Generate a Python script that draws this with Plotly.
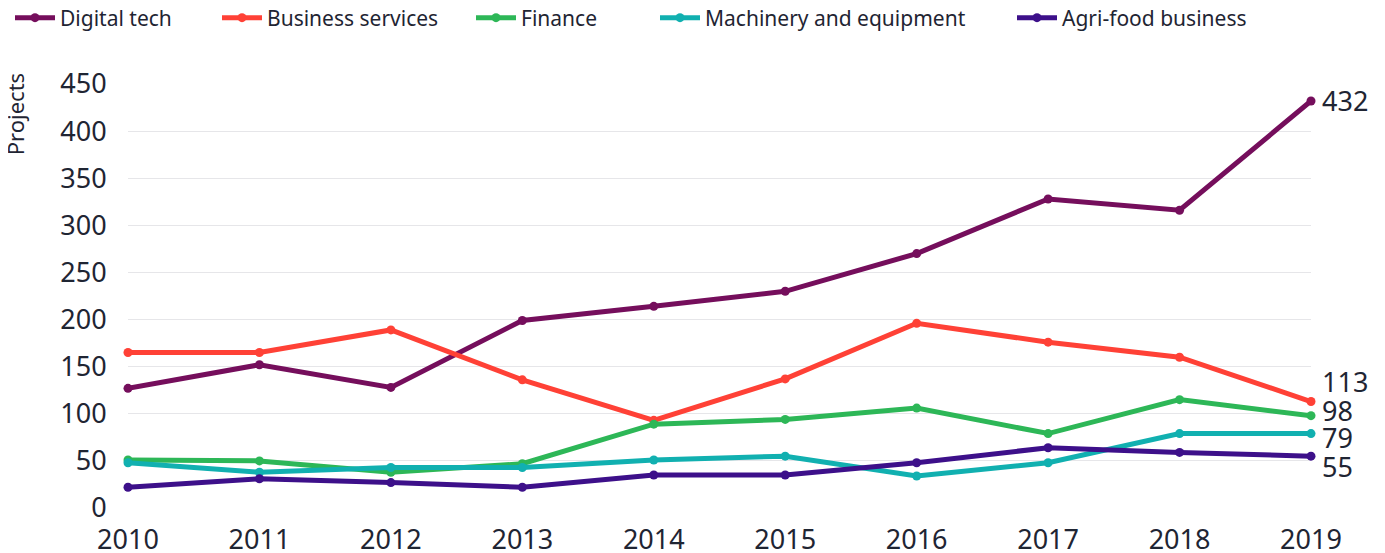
import plotly.graph_objects as go

years = [2010, 2011, 2012, 2013, 2014, 2015, 2016, 2017, 2018, 2019]
digital_tech = [127, 152, 128, 199, 214, 230, 270, 328, 316, 432]
business_services = [165, 165, 189, 136, 93, 137, 196, 176, 160, 113]
finance = [51, 50, 38, 47, 89, 94, 106, 79, 115, 98]
machinery = [48, 38, 43, 43, 51, 55, 34, 48, 79, 79]
agri_food = [22, 31, 27, 22, 35, 35, 48, 64, 59, 55]

series_names = ["Digital tech", "Business services", "Finance", "Machinery and equipment", "Agri-food business"]
series_values = [digital_tech, business_services, finance, machinery, agri_food]
colors = ["#750E5C", "#FF4136", "#2DB757", "#11B0B0", "#3D108A"]
label_shift = [0, 20, 5, -4, -10]
legend_px = [2, 209, 463, 647, 1004]

FONT = "Noto Sans"
TXT = "#1F2533"
# the page body adds an 8px offset; size the figure to fill the window
W, H = 1377, 545
ML, MR, MT, MB = 120, 74, 76, 45
PW, PH = W - ML - MR, H - MT - MB

fig = go.Figure()
for i, (name, vals, col) in enumerate(zip(series_names, series_values, colors)):
    lg = "legend" if i == 0 else f"legend{i+1}"
    fig.add_trace(go.Scatter(
        x=years, y=vals, name=name, mode="lines+markers",
        line=dict(color=col, width=5),
        marker=dict(color=col, size=9),
        cliponaxis=False, legend=lg,
    ))

for vals, shift in zip(series_values, label_shift):
    fig.add_annotation(
        x=years[-1], y=vals[-1], text=str(vals[-1]), showarrow=False,
        xanchor="left", yanchor="middle", xshift=9, yshift=shift,
        font=dict(family=FONT, size=27, color=TXT),
    )

fig.add_annotation(
    x=0, xref="paper", xshift=-113, y=1.03, yref="paper",
    text="Projects", textangle=-90, showarrow=False,
    xanchor="center", yanchor="top",
    font=dict(family=FONT, size=22, color=TXT),
)

legends = {}
for i, lx in enumerate(legend_px):
    key = "legend" if i == 0 else f"legend{i+1}"
    legends[key] = dict(
        orientation="h", xref="paper", yref="paper",
        x=(lx - ML) / PW, xanchor="left", y=1 + (MT - 10) / PH, yanchor="middle",
        font=dict(family=FONT, size=21, color=TXT),
        itemwidth=40, bgcolor="rgba(0,0,0,0)",
    )

fig.update_layout(
    width=W, height=H,
    margin=dict(l=ML, r=MR, t=MT, b=MB, autoexpand=False),
    plot_bgcolor="white", paper_bgcolor="white",
    font=dict(family=FONT, color=TXT),
    showlegend=True,
    xaxis=dict(
        range=[2010, 2019], tickvals=years, showgrid=False, zeroline=False,
        showline=False, tickfont=dict(family=FONT, size=27, color=TXT),
        ticks="outside", ticklen=8, tickcolor="rgba(0,0,0,0)", automargin=False,
    ),
    yaxis=dict(
        range=[0, 450], dtick=50, showgrid=True, gridcolor="#E6E6E9",
        gridwidth=1, zeroline=False, showline=False,
        tickfont=dict(family=FONT, size=27, color=TXT),
        ticks="outside", ticklen=15, tickcolor="rgba(0,0,0,0)", automargin=False,
    ),
    **legends,
)

fig.write_html("out.html")
